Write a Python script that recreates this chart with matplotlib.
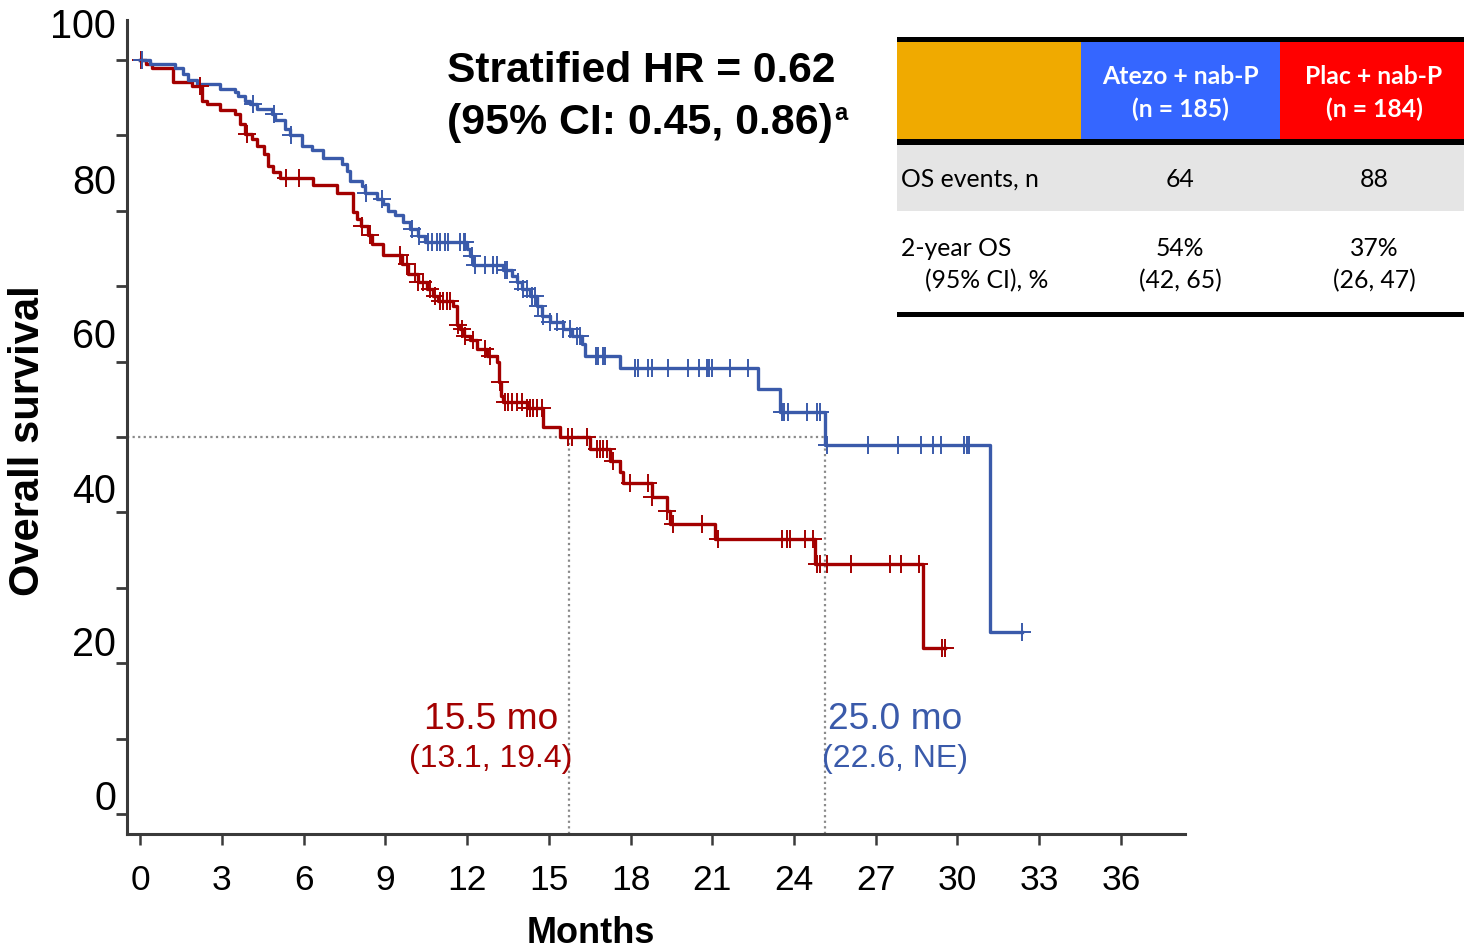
import numpy as np
import matplotlib
matplotlib.use("Agg")
import matplotlib.pyplot as plt
from matplotlib.patches import Rectangle

# ---------------- data ----------------
months_ticks = list(range(0, 37, 3))
surv_tick_labels = ["0", "20", "40", "60", "80", "100"]

# Atezo + nab-P (blue): event times (months) and survival (%) after each event
atezo_t = [0.37, 1.28, 1.59, 1.77, 2.08, 2.94, 3.49, 3.61, 3.85, 4.04, 4.28, 4.83, 4.95,
           5.32, 5.50, 5.93, 6.30, 6.73, 7.40, 7.60, 7.71, 8.13, 8.26, 8.69, 8.93, 9.11,
           9.36, 9.66, 9.91, 10.21, 10.46, 11.99, 12.11, 12.23, 13.33, 13.64, 13.82, 14.01,
           14.31, 14.56, 14.74, 15.05, 15.53, 15.84, 16.21, 16.33, 17.61, 22.69, 23.49,
           25.14, 31.19]
atezo_s = [99.5, 99.0, 98.1, 97.3, 96.8, 96.2, 95.7, 95.2, 94.6, 94.2, 93.5, 92.8, 92.0,
           90.8, 90.0, 88.6, 88.0, 87.0, 86.2, 85.3, 84.0, 83.3, 82.4, 81.6, 80.9, 80.0,
           79.4, 78.5, 77.6, 76.7, 75.8, 74.9, 74.0, 72.8, 72.2, 71.4, 70.5, 69.6,
           68.7, 67.4, 66.1, 65.2, 64.3, 63.4, 62.3, 60.8, 59.2, 56.4, 53.3,
           49.0, 24.2]
atezo_cens = [0.08, 4.16, 4.93, 5.53, 8.29, 8.87, 9.97, 10.25, 10.58, 10.70, 10.89, 11.01,
              11.19, 11.31, 11.74, 11.87, 11.93, 12.17, 12.29, 12.66, 12.97, 13.09, 13.39,
              13.46, 13.88, 14.07, 14.19, 14.37, 14.50, 14.62, 14.80, 15.05, 15.29, 15.53,
              15.78, 16.03, 16.15, 16.73, 16.82, 16.98, 17.06, 18.17, 18.29, 18.65, 18.78,
              19.39, 20.12, 20.53, 20.79, 20.88, 20.98, 21.65, 22.32, 23.55, 23.63, 23.79,
              24.49, 24.83, 24.95, 25.20, 26.73, 27.80, 28.65, 29.11, 29.38, 30.24, 30.34,
              30.42, 32.35]

# Plac + nab-P (red)
plac_t = [0.20, 0.43, 1.22, 1.90, 2.26, 2.45, 2.94, 3.49, 3.67, 3.85, 4.10, 4.28, 4.53,
          4.71, 4.89, 5.14, 6.36, 7.22, 7.80, 7.95, 8.10, 8.35, 8.53, 8.93, 9.60, 9.85,
          10.21, 10.52, 10.76, 10.95, 11.50, 11.62, 11.74, 11.87, 12.11, 12.35, 12.72,
          13.09, 13.19, 13.23, 13.33, 14.19, 14.80, 15.41, 16.51, 17.25, 17.61, 17.74,
          18.78, 19.33, 19.45, 21.10, 24.77, 28.75]
plac_s = [99.5, 98.9, 97.1, 96.6, 94.6, 94.1, 93.4, 92.8, 91.5, 90.2, 89.5, 88.6, 87.5,
          86.0, 85.1, 84.4, 83.4, 82.4, 79.8, 78.9, 78.0, 76.8, 75.6, 74.2, 72.9, 71.6,
          70.5, 69.6, 68.7, 68.1, 67.4, 64.8, 64.3, 63.4, 62.8, 61.7, 60.8,
          59.9, 57.3, 55.5, 54.6, 53.9, 51.3, 50.0, 48.4, 46.8, 45.3, 43.9,
          42.1, 40.2, 38.4, 36.5, 33.2, 22.0]
plac_cens = [0.05, 2.20, 3.91, 5.35, 5.83, 8.13, 8.44, 9.54, 9.79, 10.09, 10.21, 10.37,
             10.64, 10.83, 11.01, 11.13, 11.25, 11.38, 11.68, 11.80, 11.93, 12.23, 12.66,
             12.84, 13.21, 13.39, 13.52, 13.64, 13.82, 14.01, 14.19, 14.31, 14.43, 14.56,
             14.74, 15.72, 15.84, 16.39, 16.76, 16.88, 17.00, 17.13, 17.37, 17.98, 18.65,
             18.78, 19.33, 19.57, 20.61, 21.22, 23.55, 23.73, 23.85, 24.40, 24.71, 24.83,
             24.95, 25.20, 26.11, 27.52, 27.92, 28.60, 29.42, 29.54]

median_x = [15.74, 25.14]
median_text = ["15.5 mo", "25.0 mo"]
median_ci = ["(13.1, 19.4)", "(22.6, NE)"]

arm_names = ["Atezo + nab-P", "Plac + nab-P"]
arm_n = ["(n = 185)", "(n = 184)"]
os_events = ["64", "88"]
os_2yr = ["54%", "37%"]
os_2yr_ci = ["(42, 65)", "(26, 47)"]

# ---------------- style ----------------
BLUE = "#3A5AAA"
RED = "#A30000"
W, H = 1464, 953
fig = plt.figure(figsize=(W / 100, H / 100), dpi=100)
plt.rcParams["font.family"] = ["Liberation Sans", "DejaVu Sans"]

ax = fig.add_axes([127 / W, 1 - 835 / H, (1185 - 127) / W, (835 - 21) / H])
ax.set_xlim(-0.48, 38.35)
ax.set_ylim(-2.65, 105.3)


def km_line(times, surv, end):
    x = [0.0] + list(times) + [end]
    y = [100.0] + list(surv) + [surv[-1]]
    return x, y


def cens_y(times, surv, cens):
    idx = np.searchsorted(np.array(times), np.array(cens), side="right")
    s = np.concatenate([[100.0], np.array(surv)])
    return s[idx]


for t, s, c, col in [(plac_t, plac_s, plac_cens, RED), (atezo_t, atezo_s, atezo_cens, BLUE)]:
    x, y = km_line(t, s, max(c))
    ax.step(x, y, where="post", color=col, lw=2.4, zorder=3)
    ax.plot(c, cens_y(t, s, c), ls="none", marker="+", ms=13, mew=1.4, color=col, zorder=4)

# median reference lines
dot = dict(color="#8A8A8A", lw=1.6, ls=(0, (1, 1.5)), zorder=2)
ax.plot([-0.48, median_x[1]], [50, 50], **dot)
for mx in median_x:
    ax.plot([mx, mx], [-2.65, 50], **dot)

# median annotations
for (xc, col, t1, t2) in [(12.88, RED, median_text[0], median_ci[0]),
                          (27.71, BLUE, median_text[1], median_ci[1])]:
    ax.text(xc, 12.7, t1, color=col, fontsize=26.7, ha="center", va="center")
    ax.text(xc, 7.4, t2, color=col, fontsize=23, ha="center", va="center")

# axes styling
for sp in ["top", "right"]:
    ax.spines[sp].set_visible(False)
for sp in ["left", "bottom"]:
    ax.spines[sp].set_color("#3a3a3a")
    ax.spines[sp].set_linewidth(2.2)

ax.set_xticks(months_ticks)
ax.set_xticklabels([str(m) for m in months_ticks], fontsize=25.5)
ax.tick_params(axis="x", length=8, width=1.8, color="#3a3a3a", pad=13)

label_pos = [2.6, 23.1, 43.4, 63.9, 84.4, 105.0]
ax.set_yticks(label_pos)
ax.set_yticklabels(surv_tick_labels, fontsize=28.5)
ax.tick_params(axis="y", which="major", length=0, pad=8)
ax.set_yticks(list(range(0, 101, 10)), minor=True)
ax.tick_params(axis="y", which="minor", length=8, width=2.0, color="#3a3a3a")

fig.text(28 / W, 1 - 441 / H, "Overall survival", rotation=90, fontsize=30,
         fontweight="bold", ha="center", va="center")
fig.text(591 / W, 1 - 934 / H, "Months", fontsize=26, fontweight="bold",
         ha="center", va="center")

fig.text(447 / W, 1 - 71 / H, "Stratified HR = 0.62", fontsize=30.6, fontweight="bold",
         ha="left", va="center")
fig.text(447 / W, 1 - 123 / H, "(95% CI: 0.45, 0.86)", fontsize=30.9, fontweight="bold",
         ha="left", va="center")
fig.text(834 / W, 1 - 113 / H, "a", fontsize=17, fontweight="bold", ha="left", va="center")

# ---------------- table ----------------
axt = fig.add_axes([897 / W, 1 - 320 / H, (W - 897) / W, (320 - 35) / H])
axt.set_xlim(897, W)
axt.set_ylim(320, 35)
axt.axis("off")

TF = ["Lato", "DejaVu Sans"]
FS = 17.8
axt.add_patch(Rectangle((897, 42.5), 184, 98, color="#F0AA00", lw=0))
axt.add_patch(Rectangle((1081, 42.5), 199, 98, color="#3566FF", lw=0))
axt.add_patch(Rectangle((1280, 42.5), W - 1280, 98, color="#FF0000", lw=0))
axt.add_patch(Rectangle((897, 145), W - 897, 66.5, color="#E5E5E5", lw=0))
for y0, hh in [(37.5, 5.5), (140, 5.5), (312.5, 5)]:
    axt.add_patch(Rectangle((897, y0), W - 897, hh, color="black", lw=0))

col_x = [1180, 1374]
for i in range(2):
    axt.text(col_x[i], 76, arm_names[i], family=TF, fontsize=FS, fontweight="bold",
             color="white", ha="center", va="center")
    axt.text(col_x[i], 109, arm_n[i], family=TF, fontsize=FS, fontweight="bold",
             color="white", ha="center", va="center")
    axt.text(col_x[i], 179, os_events[i], family=TF, fontsize=FS, ha="center", va="center")
    axt.text(col_x[i], 249, os_2yr[i], family=TF, fontsize=FS, ha="center", va="center")
    axt.text(col_x[i], 281, os_2yr_ci[i], family=TF, fontsize=FS, ha="center", va="center")

axt.text(901, 179, "OS events, n", family=TF, fontsize=FS, ha="left", va="center")
axt.text(901, 249, "2-year OS", family=TF, fontsize=FS, ha="left", va="center")
axt.text(925, 281, "(95% CI), %", family=TF, fontsize=FS, ha="left", va="center")

fig.savefig("out.png", dpi=100, facecolor="white")
